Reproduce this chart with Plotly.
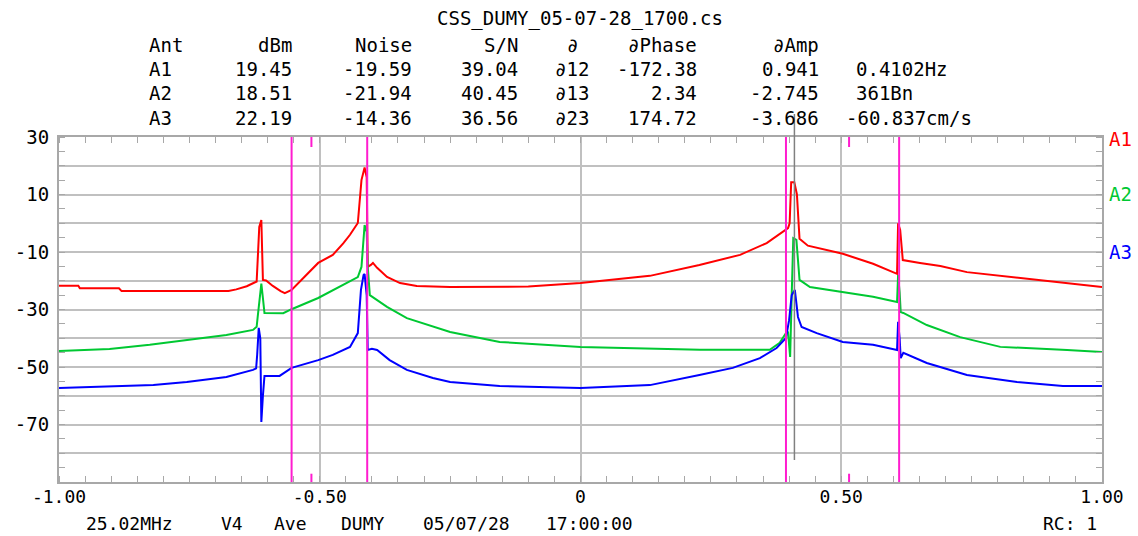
import plotly.graph_objects as go

# ---------------- data ----------------
title_text = "CSS_DUMY_05-07-28_1700.cs"
header_labels = ["Ant", "dBm", "Noise", "S/N", "∂", "∂Phase", "∂Amp"]
antennas = ["A1", "A2", "A3"]
dbm = ["19.45", "18.51", "22.19"]
noise = ["-19.59", "-21.94", "-14.36"]
snr = ["39.04", "40.45", "36.56"]
pairs = ["∂12", "∂13", "∂23"]
dphase = ["-172.38", "2.34", "174.72"]
damp = ["0.941", "-2.745", "-3.686"]
cursor_info = ["0.4102Hz", "361Bn", "-60.837cm/s"]
footer_fields = ["25.02MHz", "V4", "Ave", "DUMY", "05/07/28", "17:00:00"]
footer_right = "RC: 1"

x_tick_vals = [-1.0, -0.5, 0.0, 0.5, 1.0]
x_tick_text = ["-1.00", "-0.50", "0", "0.50", "1.00"]
y_label_vals = [30, 10, -10, -30, -50, -70]
y_label_text = ["30", "10", "-10", "-30", "-50", "-70"]

freq_a1 = [-1.0, -0.963, -0.96, -0.885, -0.88, -0.675, -0.66, -0.64, -0.625, -0.621, -0.619, -0.616,
           -0.612, -0.609, -0.603, -0.59, -0.575, -0.567, -0.554, -0.53, -0.503, -0.475, -0.455,
           -0.442, -0.427, -0.42, -0.414, -0.41, -0.408, -0.402, -0.398, -0.39, -0.371, -0.346,
           -0.314, -0.25, -0.1, 0.0, 0.133, 0.228, 0.306, 0.357, 0.386, 0.398, 0.401, 0.404, 0.41,
           0.415, 0.42, 0.436, 0.503, 0.561, 0.607, 0.609, 0.613, 0.618, 0.651, 0.69, 0.741, 0.837,
           0.925, 1.0]
db_a1 = [-21.7, -21.7, -22.6, -22.6, -23.6, -23.6, -23.0, -21.9, -20.6, -20.3, -12.8, -1.3,
         1.1, -19.7, -19.9, -21.8, -23.6, -24.3, -23.2, -18.6, -13.8, -11.0, -7.0,
         -4.0, 0.1, 15.0, 19.4, 16.0, -15.2, -14.5, -13.8, -15.5, -18.7, -20.8,
         -21.8, -22.2, -22.0, -20.8, -18.3, -14.5, -11.0, -6.9, -3.0, -1.7, 0.0, 14.3, 14.3,
         10.0, -5.4, -7.8, -10.6, -14.1, -17.6, 0.0, -2.3, -12.8, -13.8, -14.9, -17.0, -19.0,
         -20.8, -22.2]

freq_a2 = [-1.0, -0.903, -0.826, -0.755, -0.679, -0.628, -0.621, -0.619, -0.615, -0.612, -0.609,
           -0.606, -0.57, -0.554, -0.503, -0.462, -0.427, -0.42, -0.416, -0.414, -0.41, -0.408,
           -0.404, -0.39, -0.371, -0.333, -0.283, -0.25, -0.155, 0.0, 0.229, 0.363, 0.382, 0.394,
           0.398, 0.402, 0.405, 0.408, 0.414, 0.418, 0.42, 0.44, 0.503, 0.561, 0.607, 0.609, 0.612,
           0.614, 0.619, 0.664, 0.728, 0.805, 0.933, 1.0]
db_a2 = [-44.4, -43.7, -42.3, -40.6, -38.9, -37.1, -36.0, -32.6, -25.0, -21.0, -26.0,
         -31.2, -31.3, -29.9, -26.0, -22.2, -18.7, -15.2, -5.0, -0.6, -3.0, -15.0,
         -25.0, -26.7, -29.1, -33.0, -36.0, -37.8, -41.3, -43.0, -44.0, -44.0, -41.6, -38.2,
         -38.0, -46.5, -25.0, -5.2, -5.8, -15.0, -19.7, -22.2, -23.9, -25.6, -27.4, -18.0, -24.0,
         -30.9, -31.2, -35.4, -39.6, -43.0, -44.1, -44.8]

freq_a3 = [-1.0, -0.819, -0.755, -0.679, -0.628, -0.622, -0.62, -0.617, -0.614, -0.612, -0.609,
           -0.606, -0.577, -0.554, -0.503, -0.475, -0.442, -0.427, -0.421, -0.416, -0.414, -0.41,
           -0.408, -0.4, -0.39, -0.366, -0.333, -0.283, -0.25, -0.155, 0.0, 0.133, 0.228, 0.292,
           0.344, 0.376, 0.394, 0.4, 0.405, 0.411, 0.417, 0.424, 0.453, 0.503, 0.561, 0.607, 0.609,
           0.612, 0.614, 0.619, 0.664, 0.741, 0.837, 0.925, 1.0]
db_a3 = [-57.3, -56.3, -55.2, -53.5, -51.0, -50.5, -45.8, -36.4, -40.0, -69.1, -60.0,
         -53.1, -53.1, -50.3, -47.6, -45.8, -43.0, -38.2, -23.2, -18.0, -17.7, -25.0,
         -44.1, -43.7, -44.1, -47.6, -51.0, -53.8, -55.2, -56.6, -57.3, -56.3, -52.8, -50.3,
         -46.9, -43.4, -39.9, -33.7, -25.0, -23.2, -32.6, -36.1, -38.2, -41.3, -42.3, -44.1, -34.3,
         -40.0, -46.9, -45.1, -48.6, -52.8, -55.2, -56.6, -56.6]

marker_lines = [-0.554, -0.409, 0.394, 0.611]
marker_ticks = [-0.516, 0.515]
cursor_freq = 0.4102

# ---------------- style / layout ----------------
W, H = 1138, 536
PL, PR, PT, PB = 59, 1102, 137, 482
FONT = "DejaVu Sans Mono"
FS = 19
GRID = "#c0c0c0"
FRAME = "#a8a8a8"
MAGENTA = "#ff1ccf"
series_colors = ["#ff0000", "#00c832", "#0000ff"]


def px_x(px):
    return (px - PL) / (PR - PL)


def px_y(py):
    return (PB - py) / (PB - PT)


fig = go.Figure()
for xs, ys, col, name in [(freq_a1, db_a1, series_colors[0], "A1"),
                          (freq_a2, db_a2, series_colors[1], "A2"),
                          (freq_a3, db_a3, series_colors[2], "A3")]:
    fig.add_trace(go.Scatter(x=xs, y=ys, mode="lines", name=name,
                             line=dict(color=col, width=2), hoverinfo="skip",
                             showlegend=False))

shapes = []
for mx in marker_lines:
    shapes.append(dict(type="line", xref="x", yref="paper", x0=mx, x1=mx, y0=0, y1=1,
                       line=dict(color=MAGENTA, width=2), layer="above"))
for mx in marker_ticks:
    shapes.append(dict(type="line", xref="x", yref="paper", x0=mx, x1=mx, y0=0, y1=0.024,
                       line=dict(color=MAGENTA, width=2), layer="above"))
    shapes.append(dict(type="line", xref="x", yref="paper", x0=mx, x1=mx, y0=0.971, y1=1,
                       line=dict(color=MAGENTA, width=2), layer="above"))
shapes.append(dict(type="line", xref="x", yref="paper", x0=cursor_freq, x1=cursor_freq,
                   y0=px_y(460), y1=px_y(114), line=dict(color="#808080", width=1.5),
                   layer="above"))

annotations = []


def add_text(txt, px, py, anchor="left", color="black", size=FS):
    annotations.append(dict(text=txt, x=px_x(px), y=px_y(py), xref="paper", yref="paper",
                            xanchor=anchor, yanchor="middle", showarrow=False, borderpad=0,
                            font=dict(family=FONT, size=size, color=color)))


add_text(title_text, 580, 18, "center")

# header columns: (anchor pixel, alignment)
col_pos = [(148, "left"), (293, "right"), (413, "right"), (519, "right"), (572, "center"),
           (698, "right"), (820, "right")]
header_y = 45
row_y = [69, 93, 118]
for lbl, (cx, al) in zip(header_labels, col_pos):
    add_text(lbl, cx, header_y, al)
columns = [antennas, dbm, noise, snr, pairs, dphase, damp]
for ci, col in enumerate(columns):
    cx, al = col_pos[ci]
    for ri, val in enumerate(col):
        add_text(val, cx, row_y[ri], al)
info_x = [855, 855, 845]
for ri, val in enumerate(cursor_info):
    add_text(val, info_x[ri], row_y[ri], "left")

# right-side antenna labels
right_label_y = [139, 194, 252]
for lbl, col, yy in zip(antennas, series_colors, right_label_y):
    add_text(lbl, 1108, yy, "left", col)

# footer
footer_x = [85, 220, 273, 340, 422, 545]
for txt, fx in zip(footer_fields, footer_x):
    add_text(txt, fx, 523, "left", size=18)
add_text(footer_right, 1098, 523, "right", size=18)

grid_levels = list(range(30, -91, -10))
y_ticktext = [y_label_text[y_label_vals.index(v)] if v in y_label_vals else "" for v in grid_levels]

fig.update_layout(
    width=W, height=H, autosize=False,
    margin=dict(l=PL, r=W - PR, t=PT, b=H - PB, pad=0),
    paper_bgcolor="white", plot_bgcolor="white",
    font=dict(family=FONT, size=FS, color="black"),
    shapes=shapes, annotations=annotations,
    xaxis=dict(range=[-1, 1], tickmode="array", tickvals=x_tick_vals, ticktext=x_tick_text,
               showgrid=True, gridcolor=GRID, gridwidth=2, zeroline=False,
               showline=True, linecolor=FRAME, linewidth=2, mirror="ticks", ticks="",
               ticklabelstandoff=-3,
               tickfont=dict(family=FONT, size=18, color="black"),
               minor=dict(tick0=-1, dtick=0.05, ticks="inside", ticklen=6, tickwidth=1,
                          tickcolor=FRAME, showgrid=False)),
    yaxis=dict(range=[-90, 30], tickmode="array", tickvals=grid_levels, ticktext=y_ticktext,
               showgrid=True, gridcolor=GRID, gridwidth=2, zeroline=False,
               showline=True, linecolor=FRAME, linewidth=2, mirror="ticks", ticks="",
               ticklabelstandoff=4,
               tickfont=dict(family=FONT, size=FS, color="black"),
               minor=dict(tick0=0, dtick=5, ticks="inside", ticklen=6, tickwidth=1,
                          tickcolor=FRAME, showgrid=False)),
)

fig.write_html("out.html")
